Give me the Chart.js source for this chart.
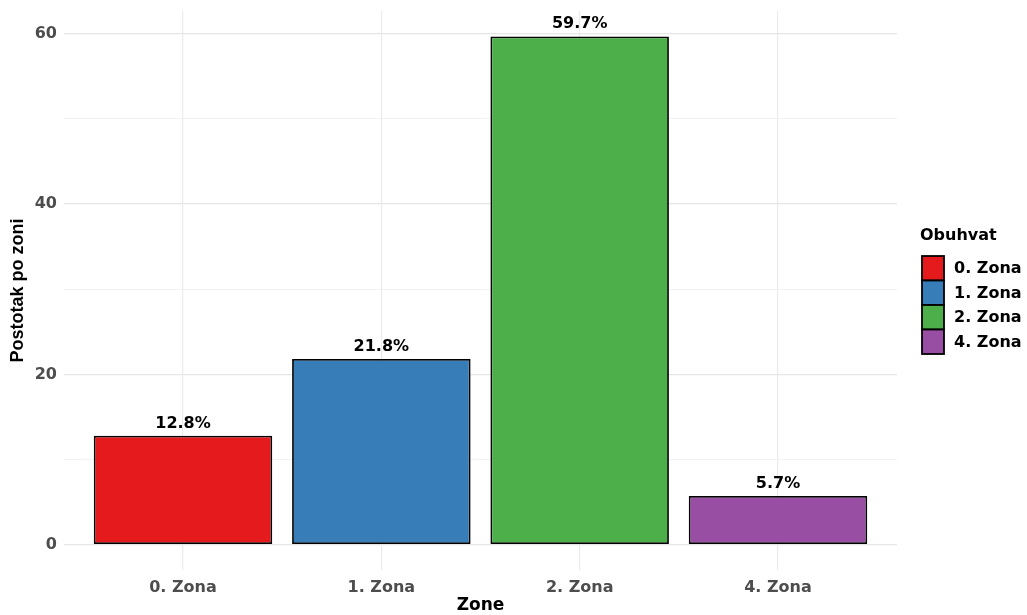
<!DOCTYPE html>
<html>
<head>
<meta charset="utf-8">
<script src="https://cdn.jsdelivr.net/npm/chart.js@4/dist/chart.umd.min.js"></script>
<style>
  html, body { margin: 0; padding: 0; background: #fff; }
  #wrap { width: 1027px; height: 615px; }
</style>
</head>
<body>
<div id="wrap"><canvas id="myBarChart"></canvas></div>
<script>
'use strict';

// 各カテゴリ
const zones = ["0. Zona", "1. Zona", "2. Zona", "4. Zona"];
// 値 (%)
const shares = [12.8, 21.8, 59.7, 5.7];
const shareLabels = ["12.8%", "21.8%", "59.7%", "5.7%"];
// Y軸の目盛り
const majorTicks = [0, 20, 40, 60];
const minorTicks = [10, 30, 50];
const colors = ["#E41A1C", "#377EB8", "#4DAF4A", "#984EA3"];
const legendTitle = "Obuhvat";

const WIDE = "'DejaVu Sans', sans-serif";
const ARIAL = "'Liberation Sans', Arial, sans-serif";

// バーの上にラベルを描く
const valueLabels = {
    id: 'valueLabels',
    afterDatasetsDraw(chart) {
        const ctx = chart.ctx;
        const meta = chart.getDatasetMeta(0);
        ctx.save();
        ctx.font = "bold 16px " + WIDE;
        ctx.fillStyle = "#000";
        ctx.textAlign = "center";
        ctx.textBaseline = "alphabetic";
        meta.data.forEach((bar, i) => {
            ctx.fillText(shareLabels[i], bar.x, bar.y - 8);
        });
        ctx.restore();
    }
};

// 凡例 (右側)
const sideLegend = {
    id: 'sideLegend',
    afterDraw(chart) {
        const ctx = chart.ctx;
        const x0 = 922, y0 = 256, w = 22, h = 24.5;
        ctx.save();
        ctx.font = "bold 16px " + WIDE;
        ctx.fillStyle = "#000";
        ctx.textAlign = "left";
        ctx.textBaseline = "middle";
        ctx.fillText(legendTitle, 920, 236);
        zones.forEach((z, i) => {
            const y = y0 + i * h;
            ctx.fillStyle = colors[i];
            ctx.fillRect(x0, y, w, h);
            ctx.strokeStyle = "#000";
            ctx.lineWidth = 1.8;
            ctx.strokeRect(x0, y, w, h);
            ctx.fillStyle = "#000";
            ctx.fillText(z, 954, y + h / 2 + 1);
        });
        ctx.restore();
    }
};

let ctx = document.getElementById("myBarChart");
let myChart = new Chart(ctx, {
    type: 'bar',
    data: {
        datasets: [{
            data: shares.map((v, i) => ({ x: i, y: v })),
            backgroundColor: colors,
            borderColor: "#000",
            borderWidth: 1.8,
            borderSkipped: false,
            categoryPercentage: 1,
            barPercentage: 0.9
        }]
    },
    options: {
        responsive: true,
        maintainAspectRatio: false,
        animation: false,
        layout: { padding: { left: 0, right: 130, top: 11, bottom: 0 } },
        plugins: {
            legend: { display: false },
            tooltip: { enabled: false }
        },
        scales: {
            x: {
                type: 'linear',
                min: -0.6,
                max: 3.6,
                offset: false,
                afterBuildTicks: s => { s.ticks = zones.map((_, i) => ({ value: i })); },
                afterFit: s => {
                    s.height = 45;
                    s.paddingLeft = 0;
                    s.paddingRight = 0;
                },
                ticks: {
                    callback: v => zones[v],
                    color: "#4d4d4d",
                    font: { family: WIDE, size: 16, weight: 'bold' },
                    padding: 8,
                    maxRotation: 0
                },
                grid: { color: "#ebebeb", lineWidth: 1.2, drawTicks: false, offset: false },
                border: { display: false },
                title: {
                    display: true,
                    text: "Zone",
                    color: "#000",
                    font: { family: WIDE, size: 17, weight: 'bold' },
                    padding: { top: 0, bottom: -1 }
                }
            },
            y: {
                min: -2.985,
                max: 62.685,
                afterBuildTicks: s => {
                    s.ticks = [...majorTicks, ...minorTicks].sort((a, b) => a - b).map(v => ({ value: v }));
                },
                afterFit: s => {
                    s.width = 64;
                    s.paddingTop = 0;
                    s.paddingBottom = 0;
                },
                ticks: {
                    callback: v => majorTicks.includes(v) ? String(v) : '',
                    color: "#4d4d4d",
                    font: { family: WIDE, size: 16, weight: 'bold' },
                    padding: 7
                },
                grid: {
                    color: c => majorTicks.includes(c.tick.value) ? "#e6e6e6" : "#f0f0f0",
                    lineWidth: c => majorTicks.includes(c.tick.value) ? 1.3 : 0.8,
                    drawTicks: false
                },
                border: { display: false },
                title: {
                    display: true,
                    text: "Postotak po zoni",
                    color: "#000",
                    font: { family: ARIAL, size: 18, weight: 'bold' },
                    padding: { top: 7, bottom: 0 }
                }
            }
        }
    },
    plugins: [valueLabels, sideLegend]
});
</script>
</body>
</html>
